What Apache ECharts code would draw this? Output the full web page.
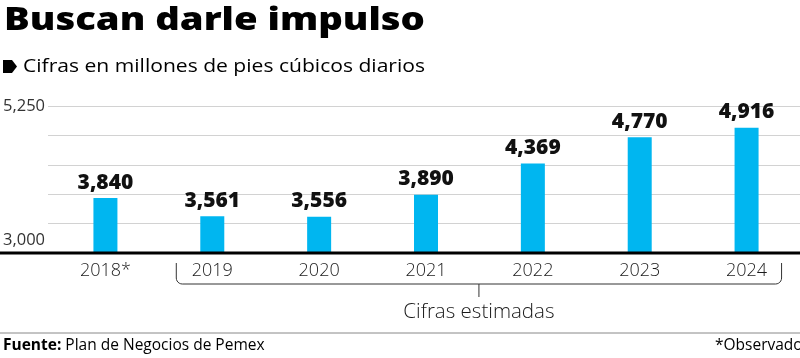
<!DOCTYPE html>
<html><head><meta charset="utf-8">
<script src="https://cdn.jsdelivr.net/npm/echarts@6/dist/echarts.min.js"></script>
<style>html,body{margin:0;padding:0;background:#fff}#c{width:800px;height:358px}</style>
</head><body><div id="c"></div>
<script>
const categories = ['2018*','2019','2020','2021','2022','2023','2024'];
const values = [3840, 3561, 3556, 3890, 4369, 4770, 4916];
const yMin = 3000, yMax = 5250, gridStep = 450;
const yTickLabels = {min: '3,000', max: '5,250'};
const title = 'Buscan darle impulso';
const subtitle = 'Cifras en millones de pies cúbicos diarios';
const bracketText = 'Cifras estimadas';
const FONT = '"Open Sans", sans-serif';

const chart = echarts.init(document.getElementById('c'), null, {renderer: 'canvas'});
const fmt = v => v.toLocaleString('en-US');

const option = {
  animation: false,
  grid: [
    {left: 52, right: 0, top: 106, bottom: 105, containLabel: false},
    {left: 48, right: 0, top: 106, bottom: 105, containLabel: false}
  ],
  xAxis: [
    {type: 'category', gridIndex: 0, data: categories,
     axisLine: {show: false}, axisTick: {show: false},
     axisLabel: {color: '#1a1a1a', fontFamily: FONT, fontWeight: 300, fontSize: 18, margin: 9}},
    {type: 'value', gridIndex: 1, min: 0, max: 1, show: false}
  ],
  yAxis: [
    {type: 'value', gridIndex: 0, min: yMin, max: yMax, show: false},
    {type: 'value', gridIndex: 1, min: 0, max: yMax - yMin, interval: gridStep,
     axisLine: {show: false}, axisTick: {show: false},
     splitLine: {show: true, lineStyle: {color: '#d2d2d2', width: 1}},
     axisLabel: {show: true, margin: 3, fontFamily: FONT, fontSize: 16.5, color: '#333',
       formatter: v => v === 0 ? '{low|' + yTickLabels.min + '}' : (v === yMax - yMin ? yTickLabels.max : ''),
       rich: {low: {fontFamily: FONT, fontSize: 16.5, color: '#333', padding: [0, 0, 26, 0]}}}}
  ],
  series: [{
    type: 'bar', xAxisIndex: 0, yAxisIndex: 0, data: values, barWidth: 24,
    itemStyle: {color: '#00b6f0'},
    label: {show: true, position: 'top', distance: 5, formatter: p => fmt(p.value),
      fontFamily: FONT, fontWeight: 800, fontSize: 21, color: '#111'}
  }]
};
chart.setOption(option);

// text width fitting
const mctx = document.createElement('canvas').getContext('2d');
function fitScale(text, font, target) {
  mctx.font = font;
  return target / mctx.measureText(text).width;
}
const titleFont = '800 32px ' + FONT;
const subFont = '500 19px ' + FONT;
const titleScale = fitScale(title, titleFont, 421);
const subScale = fitScale(subtitle, subFont, 402);

// baseline and annotations
const x2019 = chart.convertToPixel({xAxisIndex: 0}, '2019');
const x2024 = chart.convertToPixel({xAxisIndex: 0}, '2024');
const baseY = chart.convertToPixel({yAxisIndex: 0}, yMin);
const bl = x2019 - 36, br = x2024 + 35, bTop = baseY + 10, bBot = baseY + 31, r = 6;
const mid = (bl + br) / 2;
function corner(cx, cy, a0, a1) {
  const pts = [];
  for (let i = 0; i <= 6; i++) {
    const a = a0 + (a1 - a0) * i / 6;
    pts.push([cx + r * Math.cos(a), cy + r * Math.sin(a)]);
  }
  return pts;
}
const bracketPts = [[bl, bTop]]
  .concat(corner(bl + r, bBot - r, Math.PI, Math.PI / 2))
  .concat(corner(br - r, bBot - r, Math.PI / 2, 0))
  .concat([[br, bTop]]);

chart.setOption({
  graphic: [
    {type: 'line', shape: {x1: 0, y1: baseY, x2: 800, y2: baseY}, style: {stroke: '#000', lineWidth: 3}, z: 100},
    {type: 'text', x: 4, y: 21, scaleX: titleScale, style: {text: title, font: titleFont, fill: '#000', textVerticalAlign: 'middle'}},
    {type: 'polygon', shape: {points: [[3,60],[12,60],[17,66.5],[12,73],[3,73]]}, style: {fill: '#000'}},
    {type: 'text', x: 23, y: 66.5, scaleX: subScale, style: {text: subtitle, font: subFont, fill: '#000', textVerticalAlign: 'middle'}},
    {type: 'polyline', shape: {points: bracketPts}, style: {stroke: '#333', lineWidth: 1, fill: null}},
    {type: 'line', shape: {x1: mid, y1: bBot, x2: mid, y2: bBot + 13}, style: {stroke: '#333', lineWidth: 1}},
    {type: 'text', x: mid, y: bBot + 28, style: {text: bracketText, font: '300 20.5px ' + FONT, fill: '#1a1a1a', textAlign: 'center', textVerticalAlign: 'middle'}},
    {type: 'line', shape: {x1: 0, y1: 333, x2: 800, y2: 333}, style: {stroke: '#888', lineWidth: 1}},
    {type: 'text', x: 3, y: 346, style: {rich: {b: {font: '700 15.5px ' + FONT, fill: '#000'}, n: {font: '400 15.5px ' + FONT, fill: '#000'}}, text: '{b|Fuente:}{n| Plan de Negocios de Pemex}', textVerticalAlign: 'middle'}},
    {type: 'text', x: 715, y: 346, style: {text: '*Observado', font: '400 15.5px ' + FONT, fill: '#000', textVerticalAlign: 'middle'}}
  ]
});
</script></body></html>
